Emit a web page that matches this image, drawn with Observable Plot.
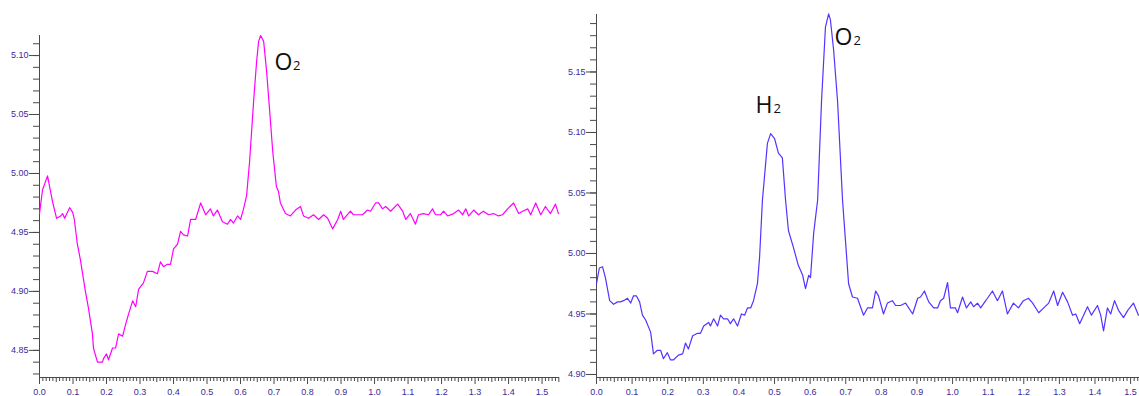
<!DOCTYPE html>
<html><head><meta charset="utf-8">
<script src="https://cdn.jsdelivr.net/npm/d3@7"></script>
<script src="https://cdn.jsdelivr.net/npm/@observablehq/plot@0.6"></script>
<style>
html,body{margin:0;padding:0;background:#fff;width:1139px;height:396px;overflow:hidden;}
#wrap{position:relative;width:1139px;height:396px;}
#left{position:absolute;left:0;top:0;}
#right{position:absolute;left:560px;top:0;}
</style></head><body><div id="wrap"><div id="left"></div><div id="right"></div></div>
<script>
// ---- Left panel (magenta) ----
const leftX = [0.000,0.009,0.024,0.039,0.051,0.063,0.069,0.075,0.090,0.099,0.104,0.113,0.122,0.137,0.146,0.158,0.161,0.173,0.188,0.191,0.200,0.206,0.218,0.227,0.236,0.248,0.257,0.266,0.278,0.287,0.296,0.310,0.322,0.337,0.352,0.361,0.370,0.382,0.391,0.400,0.412,0.421,0.430,0.442,0.451,0.466,0.481,0.496,0.510,0.519,0.531,0.546,0.561,0.570,0.579,0.591,0.600,0.609,0.618,0.627,0.639,0.648,0.654,0.660,0.669,0.678,0.687,0.696,0.707,0.713,0.719,0.734,0.749,0.764,0.779,0.788,0.803,0.818,0.833,0.848,0.860,0.875,0.890,0.899,0.907,0.928,0.937,0.964,0.979,0.988,1.003,1.012,1.024,1.033,1.048,1.069,1.084,1.093,1.107,1.122,1.131,1.146,1.161,1.173,1.182,1.197,1.206,1.218,1.236,1.251,1.263,1.272,1.281,1.296,1.310,1.325,1.340,1.355,1.370,1.382,1.397,1.415,1.430,1.442,1.457,1.466,1.481,1.496,1.510,1.525,1.540,1.549];
const leftY = [4.966,4.986,4.998,4.976,4.962,4.964,4.966,4.962,4.971,4.967,4.961,4.940,4.927,4.900,4.886,4.864,4.852,4.840,4.840,4.843,4.847,4.842,4.852,4.852,4.864,4.862,4.872,4.881,4.892,4.887,4.902,4.907,4.917,4.917,4.915,4.925,4.921,4.923,4.923,4.936,4.940,4.951,4.948,4.947,4.961,4.961,4.975,4.965,4.970,4.964,4.969,4.959,4.957,4.961,4.958,4.964,4.961,4.970,4.981,5.010,5.061,5.095,5.112,5.117,5.112,5.086,5.053,5.019,4.989,4.985,4.975,4.966,4.964,4.969,4.972,4.964,4.962,4.965,4.961,4.965,4.962,4.953,4.961,4.968,4.961,4.968,4.965,4.965,4.969,4.968,4.975,4.975,4.970,4.972,4.968,4.974,4.968,4.961,4.966,4.957,4.965,4.966,4.965,4.970,4.965,4.965,4.968,4.964,4.966,4.969,4.965,4.970,4.964,4.969,4.965,4.968,4.965,4.966,4.964,4.965,4.970,4.975,4.966,4.968,4.970,4.965,4.975,4.965,4.972,4.966,4.974,4.966];
const leftYTickLabels = [4.85, 4.90, 4.95, 5.00, 5.05, 5.10];
const leftXTickLabels = [0.0,0.1,0.2,0.3,0.4,0.5,0.6,0.7,0.8,0.9,1.0,1.1,1.2,1.3,1.4,1.5];
const leftAnnot = [{x: 0.7015, y: 5.088, main: "O", sub: "2", dx: 18.5}];

// ---- Right panel (blue) ----
const rightX = [0.000,0.008,0.017,0.025,0.037,0.048,0.059,0.067,0.076,0.087,0.096,0.104,0.112,0.121,0.129,0.138,0.152,0.160,0.171,0.180,0.188,0.199,0.208,0.216,0.230,0.242,0.250,0.258,0.270,0.284,0.292,0.301,0.315,0.320,0.329,0.340,0.348,0.357,0.368,0.376,0.385,0.396,0.407,0.416,0.424,0.433,0.441,0.452,0.458,0.466,0.480,0.489,0.500,0.511,0.522,0.531,0.539,0.553,0.567,0.579,0.587,0.596,0.601,0.610,0.621,0.632,0.643,0.652,0.657,0.666,0.677,0.691,0.708,0.719,0.733,0.750,0.761,0.775,0.784,0.792,0.806,0.817,0.831,0.840,0.854,0.868,0.888,0.902,0.910,0.921,0.933,0.947,0.958,0.966,0.975,0.986,0.994,1.008,1.014,1.028,1.039,1.051,1.059,1.070,1.079,1.093,1.098,1.112,1.126,1.140,1.154,1.171,1.185,1.199,1.213,1.225,1.242,1.256,1.270,1.284,1.295,1.309,1.323,1.337,1.346,1.357,1.379,1.390,1.407,1.416,1.424,1.435,1.444,1.455,1.466,1.480,1.492,1.508,1.522];
const rightY = [4.975,4.988,4.989,4.980,4.961,4.958,4.960,4.960,4.961,4.963,4.959,4.965,4.965,4.960,4.949,4.945,4.935,4.917,4.920,4.920,4.913,4.918,4.912,4.912,4.916,4.917,4.926,4.921,4.932,4.934,4.934,4.940,4.943,4.940,4.946,4.940,4.949,4.946,4.946,4.942,4.946,4.940,4.950,4.949,4.955,4.955,4.961,4.975,4.997,5.044,5.091,5.099,5.095,5.083,5.079,5.044,5.019,5.005,4.990,4.982,4.971,4.982,4.980,5.017,5.044,5.126,5.187,5.198,5.193,5.168,5.126,5.044,4.975,4.964,4.963,4.949,4.955,4.955,4.969,4.965,4.950,4.959,4.961,4.957,4.957,4.959,4.950,4.963,4.964,4.969,4.960,4.955,4.955,4.961,4.963,4.976,4.955,4.955,4.951,4.964,4.955,4.960,4.956,4.959,4.955,4.961,4.963,4.969,4.961,4.969,4.950,4.959,4.955,4.961,4.963,4.959,4.951,4.955,4.959,4.969,4.957,4.968,4.960,4.949,4.950,4.942,4.956,4.949,4.957,4.949,4.936,4.955,4.950,4.961,4.953,4.947,4.953,4.959,4.949];
const rightYTickLabels = [4.90, 4.95, 5.00, 5.05, 5.10, 5.15];
const rightXTickLabels = [0.0,0.1,0.2,0.3,0.4,0.5,0.6,0.7,0.8,0.9,1.0,1.1,1.2,1.3,1.4,1.5];
const rightAnnot = [
  {x: 0.4466, y: 5.1157, main: "H", sub: "2", dx: 18},
  {x: 0.6685, y: 5.1727, main: "O", sub: "2", dx: 19}
];

const axisColor = "#4a4a4a";
const labelColor = "#3a2aa0";

function panel({xs, ys, color, xDomain, yDomain, yTicks, xTicks, annot, width, marginLeft, marginRight, marginTop}) {
  const data = xs.map((x, i) => ({x, y: ys[i]}));
  const minorY = d3.range(Math.ceil(yDomain[0]*100), Math.floor(yDomain[1]*100)+1).map(v => v/100);
  const allX = d3.range(0, Math.floor(xDomain[1]*100)+1).map(v => v/100);
  const midX = allX.filter(v => Math.round(v*100) % 10 === 5);
  const minX = allX.filter(v => Math.round(v*100) % 5 !== 0);
  const textFont = "'Open Sans', sans-serif";
  const annotMarks = annot.flatMap(a => [
    Plot.text([a], {x: "x", y: "y", text: "main", textAnchor: "start", lineAnchor: "bottom", fontSize: 23, fontFamily: textFont, fill: "#111"}),
    Plot.text([a], {x: "x", y: "y", text: "sub", dx: a.dx, textAnchor: "start", lineAnchor: "bottom", fontSize: 13, fontFamily: textFont, fill: "#111"})
  ]);
  return Plot.plot({
    width, height: 396, marginLeft, marginRight, marginTop, marginBottom: 19,
    x: {domain: xDomain, axis: null},
    y: {domain: yDomain, axis: null},
    style: {fontFamily: "'Liberation Sans', Arial, sans-serif", fontSize: "9px", background: "transparent", overflow: "visible"},
    marks: [
      Plot.ruleX([xDomain[0]], {stroke: axisColor, strokeWidth: 1}),
      Plot.ruleY([yDomain[0]], {stroke: axisColor, strokeWidth: 1}),
      Plot.axisY(minorY, {tickSize: 6, tickFormat: () => "", stroke: axisColor, label: null}),
      Plot.axisY(yTicks, {tickSize: 10, tickPadding: 1, tickFormat: d => d.toFixed(2), stroke: axisColor, fill: labelColor, label: null}),
      Plot.axisX(minX, {tickSize: 4, tickFormat: () => "", stroke: axisColor, label: null}),
      Plot.axisX(midX, {tickSize: 5, tickFormat: () => "", stroke: axisColor, label: null}),
      Plot.axisX(xTicks, {tickSize: 7, tickPadding: 4, tickFormat: d => d.toFixed(1), stroke: axisColor, fill: labelColor, label: null}),
      Plot.line(data, {x: "x", y: "y", stroke: color, strokeWidth: 1.2}),
      ...annotMarks
    ]
  });
}

const leftSvg = panel({xs: leftX, ys: leftY, color: "#ff00ff", xDomain: [0, 1.552], yDomain: [4.827, 5.117],
  yTicks: leftYTickLabels, xTicks: leftXTickLabels, annot: leftAnnot, width: 565, marginLeft: 39, marginRight: 6, marginTop: 35});
const rightSvg = panel({xs: rightX, ys: rightY, color: "#5533ff", xDomain: [0, 1.525], yDomain: [4.8975, 5.1975],
  yTicks: rightYTickLabels, xTicks: rightXTickLabels, annot: rightAnnot, width: 579, marginLeft: 36, marginRight: 0, marginTop: 14});

document.getElementById("left").appendChild(leftSvg);
document.getElementById("right").appendChild(rightSvg);
</script>
</body></html>
